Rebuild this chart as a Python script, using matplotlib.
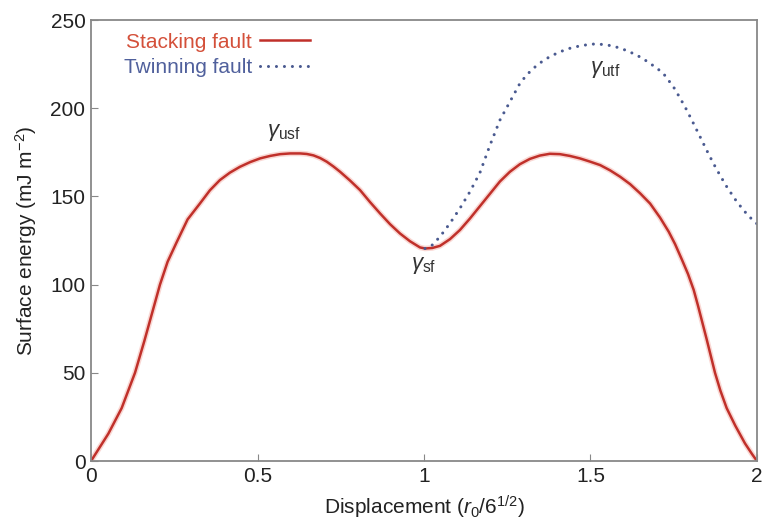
import matplotlib
matplotlib.use("Agg")
import matplotlib.pyplot as plt
from matplotlib import font_manager

# stacking fault: displacement / surface energy (mJ m^-2)
sf_x = [0, 0.052, 0.092, 0.132, 0.16, 0.185, 0.207, 0.23, 0.257, 0.29, 0.327, 0.357,
        0.387, 0.417, 0.447, 0.478, 0.508, 0.538, 0.568, 0.598, 0.628, 0.648, 0.668,
        0.688, 0.708, 0.728, 0.748, 0.778, 0.808, 0.838, 0.868, 0.898, 0.928, 0.958,
        0.988, 1.003, 1.025, 1.048, 1.078, 1.108, 1.138, 1.168, 1.198, 1.228, 1.258,
        1.288, 1.318, 1.348, 1.378, 1.408, 1.438, 1.468, 1.498, 1.529, 1.559, 1.589,
        1.619, 1.649, 1.679, 1.709, 1.735, 1.754, 1.775, 1.793, 1.81, 1.823, 1.849,
        1.874, 1.89, 1.909, 1.935, 1.964, 1.985, 2.0]
sf_y = [0, 15.5, 30, 50, 68, 85, 100, 113, 124, 137, 146, 153.5,
        159.3, 163.5, 166.8, 169.5, 171.6, 173, 174, 174.4, 174.4, 174.1, 173.3,
        171.8, 169.7, 167, 164, 159, 153.6, 146.8, 140.4, 134.3, 129, 124.6,
        121.1, 120.5, 120.8, 122, 125.8, 131, 137.5, 144.5, 151.5, 158.5, 164,
        168.3, 171.3, 173.2, 174.2, 174, 173, 171.6, 169.8, 167.8, 164.8, 161.2,
        157, 151.8, 146, 138, 130, 123, 114, 106, 97, 88, 69,
        50, 40, 30, 20, 10, 4, 0]

# twinning fault branch, starting from the stacking fault minimum
tf_x = [1.003, 1.025, 1.048, 1.078, 1.108, 1.138, 1.168, 1.198, 1.228, 1.258, 1.288,
        1.308, 1.328, 1.353, 1.378, 1.408, 1.438, 1.473, 1.508, 1.538, 1.568, 1.598,
        1.628, 1.655, 1.679, 1.699, 1.719, 1.749, 1.769, 1.789, 1.809, 1.829, 1.849,
        1.869, 1.889, 1.909, 1.934, 1.959, 1.98, 2.0]
tf_y = [120.5, 122.5, 127.2, 134.8, 143.3, 152.7, 163.5, 179, 193.3, 203.7, 214.1,
        218.8, 222.6, 226.3, 229.3, 232, 234, 235.6, 236.4, 236.2, 235.3, 233.5,
        231.1, 228.5, 225.4, 222.8, 219.7, 212.2, 205.8, 199, 191.5, 183.9, 176.2,
        168.8, 162, 155.6, 148.5, 142.3, 138, 134.5]

names = {f.name for f in font_manager.fontManager.ttflist}
fam = "Liberation Sans Narrow" if "Liberation Sans Narrow" in names else "Liberation Sans"
plt.rcParams["font.family"] = [fam, "DejaVu Sans"]
plt.rcParams["mathtext.fontset"] = "custom"
plt.rcParams["mathtext.rm"] = fam
plt.rcParams["mathtext.it"] = fam + ":italic"

red = "#c0302a"
blue = "#4a5a90"

fig = plt.figure(figsize=(7.65, 5.29), dpi=100)
ax = fig.add_axes([0.119, 0.1285, 0.8705, 0.8335])

# soft halo under the red curve
ax.plot(sf_x, sf_y, color="#f4b0a8", lw=4.0, alpha=0.5, solid_capstyle="round")
ax.plot(sf_x, sf_y, color=red, lw=1.8, label="Stacking fault")
ax.plot(tf_x, tf_y, color=blue, lw=2.2, linestyle=(0, (0.01, 2.6)),
        dash_capstyle="round", label="Twinning fault")

ax.text(0.58, 186, r"$\gamma_{\rm usf}$", fontsize=16, ha="center", va="center", color="#333333")
ax.text(1.0, 111, r"$\gamma_{\rm sf}$", fontsize=16, ha="center", va="center", color="#333333")
ax.text(1.545, 222, r"$\gamma_{\rm utf}$", fontsize=16, ha="center", va="center", color="#333333")

ax.set_xlim(0, 2)
ax.set_ylim(0, 250)
ax.set_xticks([0, 0.5, 1, 1.5, 2])
ax.set_xticklabels(["0", "0.5", "1", "1.5", "2"])
ax.set_yticks([0, 50, 100, 150, 200, 250])
ax.tick_params(direction="in", length=5, color="#888888", labelsize=15, pad=4,
               labelcolor="#222222")
for s in ax.spines.values():
    s.set_color("#888888")
    s.set_linewidth(1.3)

ax.set_xlabel(r"Displacement ($r_0$/6$^{1/2}$)", fontsize=15, color="#222222", labelpad=6)
ax.set_ylabel(r"Surface energy (mJ m$^{-2}$)", fontsize=15, color="#222222", labelpad=8)

leg = ax.legend(loc="upper left", frameon=False, markerfirst=False, fontsize=15,
                handlelength=2.4, handletextpad=0.4, labelspacing=0.3,
                borderaxespad=0.2, bbox_to_anchor=(0.03, 1.0))
leg.get_texts()[0].set_color("#d4503a")
leg.get_texts()[1].set_color("#50609c")

fig.savefig("out.png", dpi=100)
